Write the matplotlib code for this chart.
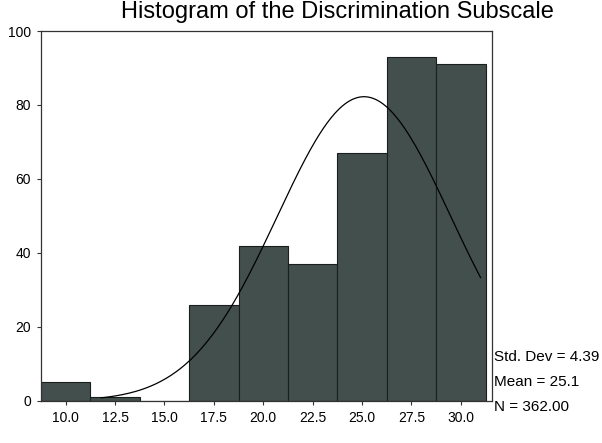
import matplotlib.pyplot as plt
import numpy as np

plt.rcParams['font.family'] = ['Liberation Sans', 'DejaVu Sans']

# bin midpoints and counts
midpoints = [10.0, 12.5, 15.0, 17.5, 20.0, 22.5, 25.0, 27.5, 30.0]
counts = [5, 1, 0, 26, 42, 37, 67, 93, 91]
tick_labels = ['10.0', '12.5', '15.0', '17.5', '20.0', '22.5', '25.0', '27.5', '30.0']

std_dev = 4.39
mean = 25.1
n_total = 362
bin_width = 2.5

fig = plt.figure(figsize=(6.02, 4.43), dpi=100)
ax = fig.add_axes([0.068, 0.095, 0.75, 0.835])

ax.bar(midpoints, counts, width=bin_width, color='#434f4d',
       edgecolor='#1a1f1e', linewidth=0.8)

# normal curve scaled to the counts
xs = np.linspace(11.8, 31.0, 300)
ys = n_total * bin_width / (std_dev * np.sqrt(2 * np.pi)) * np.exp(-0.5 * ((xs - mean) / std_dev) ** 2)
ax.plot(xs, ys, color='black', linewidth=0.9)

ax.set_xlim(8.75, 31.6)
ax.set_ylim(0, 100)
ax.set_xticks(midpoints)
ax.set_xticklabels(tick_labels, fontsize=10)
ax.set_yticks([0, 20, 40, 60, 80, 100])
ax.set_yticklabels(['0', '20', '40', '60', '80', '100'], fontsize=10)
ax.tick_params(axis='both', length=3, width=0.8, color='#333333', pad=4)

for side in ['left', 'top', 'right', 'bottom']:
    ax.spines[side].set_linewidth(0.9)
    ax.spines[side].set_color('#333333')

fig.text(0.56, 0.997, 'Histogram of the Discrimination Subscale',
         ha='center', va='top', fontsize=17)

fig.text(0.82, 0.195, f'Std. Dev = {std_dev:.2f}', fontsize=11, va='center')
fig.text(0.82, 0.138, f'Mean = {mean}', fontsize=11, va='center')
fig.text(0.82, 0.081, f'N = {n_total:.2f}', fontsize=11, va='center')

fig.savefig('out.png', dpi=100)
